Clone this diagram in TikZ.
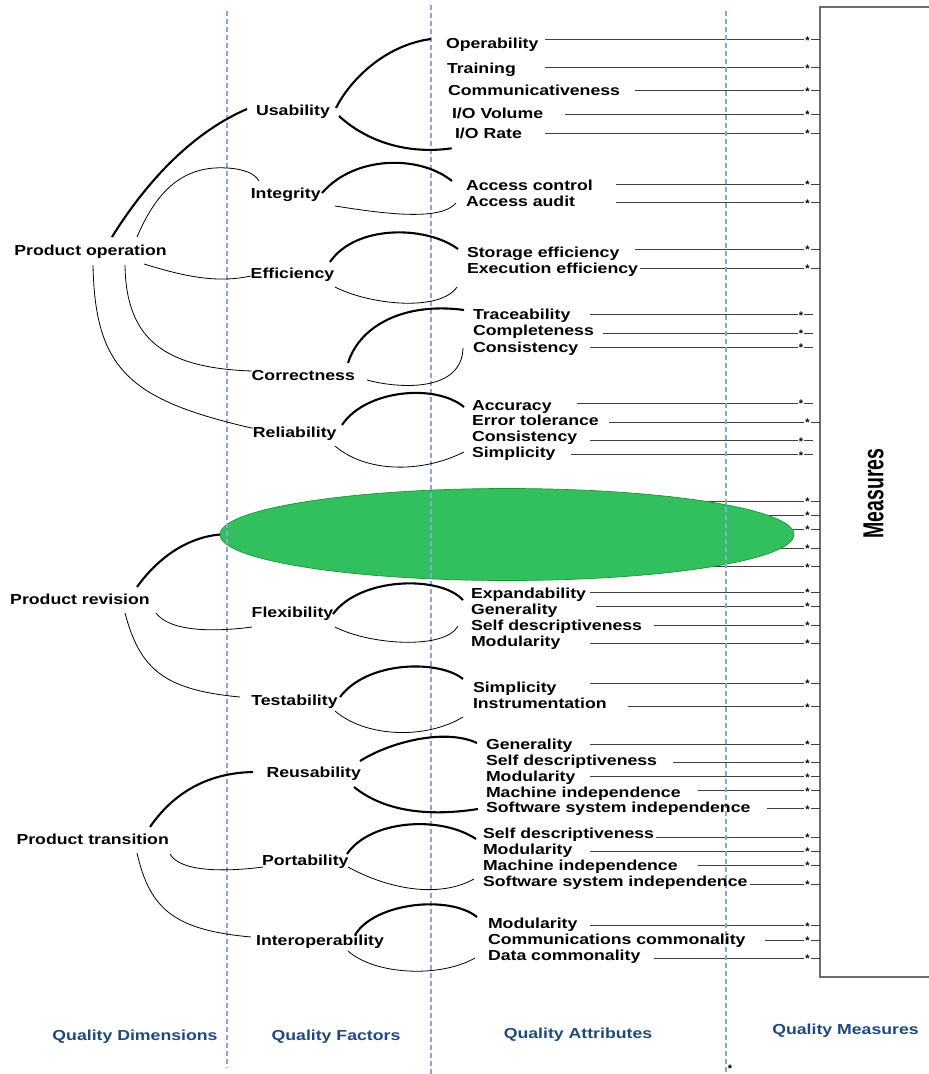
\documentclass[tikz,border=0pt]{standalone}
\usepackage{fontspec}
\newfontfamily\qfont{Liberation Sans}[FakeStretch=1.22]
\newfontfamily\mfont{Liberation Sans}
\usetikzlibrary{shapes.geometric}
\definecolor{guide}{RGB}{135,168,222}
\definecolor{dimblue}{RGB}{31,73,125}
\definecolor{boxgray}{RGB}{110,110,110}
\definecolor{blobfill}{RGB}{50,192,95}
\definecolor{blobedge}{RGB}{30,150,50}
\begin{document}
\begin{tikzpicture}[x=1pt,y=-1pt,
  lbl/.style={font=\qfont\bfseries\fontsize{14.5}{16}\selectfont, inner sep=0pt, outer sep=0pt, text height=10.4pt, text depth=0pt},
  dimension/.style={lbl},
  factor/.style={lbl},
  attr/.style={lbl, anchor=west},
  colhead/.style={lbl, text=dimblue},
  guideline/.style={guide, line width=1.2pt, dash pattern=on 5pt off 3pt},
  heavy/.style={line width=2.1pt},
  light/.style={line width=0.8pt},
  measline/.style={line width=1pt, black!75},
  starmark/.style={font=\mfont\bfseries\fontsize{11}{11}\selectfont, inner sep=1pt, anchor=base},
]
\useasboundingbox (0,0) rectangle (929,1074);

% measure box on the right
\node[draw=boxgray, line width=1.4pt, outer sep=0pt, inner sep=0pt,
      minimum width=200pt, minimum height=970pt, anchor=north west] (mbox) at (820,7) {};
\node[rotate=90, font=\mfont\bfseries\fontsize{19.5}{20}\selectfont, inner sep=0pt] (mtitle)
     at (873.7,493.3) {\scalebox{1}[1.48]{Measures}};

% attribute-to-measure lines: id / start x / line y / star x / tick end
\foreach \i/\sx/\ly/\stx/\tke in {
  1/545/39.5/807.5/820, 2/545/67.7/807.5/820, 3/635/90.7/807.5/820,
  4/565/114.3/807.5/820, 5/545/133/807.5/820, 6/616/184/807.5/820,
  7/616/202.7/807.5/820, 8/635/249.3/807.5/820, 9/640/268/807.5/820,
  10/590/314.7/801/813, 11/603/333.3/801/813, 12/590/347.3/801/813,
  13/577/403.3/801/813, 14/609/422.3/807.5/820, 15/590/440.7/801/813,
  16/571/454.7/801/813, 17/600/501.3/807.5/820, 18/600/515.3/807.5/820,
  19/600/529.3/807.5/820, 20/600/548/807.5/820, 21/600/566.7/807.5/820,
  22/590/592.3/807.5/820, 23/596/606/807.5/820, 24/654/625/807.5/820,
  25/590/643.3/807.5/820, 26/590/683.3/807.5/820, 27/628/706.7/807.5/820,
  28/590/744/807.5/820, 29/673/762.7/807.5/820, 30/590/776.7/807.5/820,
  31/698/790.7/807.5/820, 32/767/808.7/807.5/820, 33/656/837.3/807.5/820,
  34/590/851.3/807.5/820, 35/698/865.3/807.5/820, 36/750/884/807.5/820,
  37/590/925.7/807.5/820, 38/765/940/807.5/820, 39/654/958.3/807.5/820}{
  \coordinate (m\i) at (\sx,\ly);
  \node[starmark] (s\i) at (\stx,\ly+4.5) {*};
  \draw[measline] (m\i) -- (s\i.west |- m\i);
  \draw[measline] (s\i.east |- m\i) -- (\tke,\ly);
}

% green highlight over the maintainability rows
\node[ellipse, draw=blobedge, fill=blobfill, line width=0.7pt, minimum width=574pt,
      minimum height=92pt, inner sep=0pt, outer sep=0pt] (blob) at (507,534.5) {};

% column separators
\draw[guideline] (227,11) -- (227,1068);
\draw[guideline] (431,5) -- (431,1074);
\draw[guideline] (726,11) -- (726,1074);

% quality dimensions
\node[dimension] (dOp) at (90.5,250) {Product operation};
\node[dimension] (dRe) at (80,599.3) {Product revision};
\node[dimension] (dTr) at (92.7,839.3) {Product transition};

% quality factors
\node[factor] (fUs) at (293,110.7) {Usability};
\node[factor] (fIn) at (285.7,193.3) {Integrity};
\node[factor] (fEf) at (292.5,273.3) {Efficiency};
\node[factor] (fCo) at (303.3,375.3) {Correctness};
\node[factor] (fRe) at (294.7,432.3) {Reliability};
\node[factor] (fFl) at (292.5,612.7) {Flexibility};
\node[factor] (fTe) at (294.5,700) {Testability};
\node[factor] (fRu) at (313.7,772.3) {Reusability};
\node[factor] (fPo) at (305.3,860) {Portability};
\node[factor] (fIo) at (320,940) {Interoperability};

% quality attributes
\node[attr] (a1) at (446,43) {Operability};
\node[attr] (a2) at (447,68) {Training};
\node[attr] (a3) at (448,90) {Communicativeness};
\node[attr] (a4) at (452,113) {I/O Volume};
\node[attr] (a5) at (455,133) {I/O Rate};
\node[attr] (a6) at (466,185) {Access control};
\node[attr] (a7) at (466,201) {Access audit};
\node[attr] (a8) at (467,252) {Storage efficiency};
\node[attr] (a9) at (467,268) {Execution efficiency};
\node[attr] (a10) at (473,314) {Traceability};
\node[attr] (a11) at (473,330) {Completeness};
\node[attr] (a12) at (473,347) {Consistency};
\node[attr] (a13) at (472,405.7) {Accuracy};
\node[attr] (a14) at (472,420.3) {Error tolerance};
\node[attr] (a15) at (472,436.7) {Consistency};
\node[attr] (a16) at (472,452.7) {Simplicity};
\node[attr] (a22) at (471,593.3) {Expandability};
\node[attr] (a23) at (471,609.3) {Generality};
\node[attr] (a24) at (471,625.3) {Self descriptiveness};
\node[attr] (a25) at (471,641.3) {Modularity};
\node[attr] (a26) at (473,687.3) {Simplicity};
\node[attr] (a27) at (473,703.3) {Instrumentation};
\node[attr] (a28) at (486,744.3) {Generality};
\node[attr] (a29) at (486,760.3) {Self descriptiveness};
\node[attr] (a30) at (486,776.7) {Modularity};
\node[attr] (a31) at (486,792.3) {Machine independence};
\node[attr] (a32) at (486,807.7) {Software system independence};
\node[attr] (a33) at (483,833.3) {Self descriptiveness};
\node[attr] (a34) at (483,849.3) {Modularity};
\node[attr] (a35) at (483,865.3) {Machine independence};
\node[attr] (a36) at (483,881.7) {Software system independence};
\node[attr] (a37) at (488,923.3) {Modularity};
\node[attr] (a38) at (488,939.3) {Communications commonality};
\node[attr] (a39) at (488,955.7) {Data commonality};

% column headings
\node[colhead] (qd) at (135,1035.7) {Quality Dimensions};
\node[colhead] (qf) at (336,1035) {Quality Factors};
\node[colhead] (qa) at (578,1033) {Quality Attributes};
\node[colhead] (qm) at (845.5,1029.3) {Quality Measures};
\node[starmark] (bstar) at (730,1072) {*};

% product operation branches
\draw[heavy] ([shift={(21.5,-13)}]dOp.center) .. controls (150,176) and (196,131) .. ([shift={(-46,-1.7)}]fUs.center);
\draw[light] ([shift={(46.5,-13)}]dOp.center) .. controls (155,195) and (180,165) .. (227,168)
             .. controls (245,169) and (255,174) .. ([shift={(-26.7,-12.3)}]fIn.center);
\draw[light] ([shift={(53.5,14)}]dOp.center) .. controls (180,275) and (215,284) .. ([shift={(-41.8,2.7)}]fEf.center);
\draw[light] ([shift={(34.5,15)}]dOp.center) .. controls (126,340) and (165,368) .. ([shift={(-51.6,-4.3)}]fCo.center);
\draw[light] ([shift={(2.5,15)}]dOp.center) .. controls (95,370) and (130,400) .. ([shift={(-42,-4)}]fRe.center);

% usability
\draw[heavy] ([shift={(43,-2.7)}]fUs.center) .. controls (350,80) and (385,45) .. ([shift={(-15,-4)}]a1.west);
\draw[heavy] ([shift={(46,5.3)}]fUs.center) .. controls (365,140) and (405,155) .. ([shift={(-3.3,15.3)}]a5.west);
% integrity
\draw[heavy] ([shift={(36.3,-0.3)}]fIn.center) .. controls (355,155) and (420,155) .. ([shift={(-14,-4)}]a6.west);
\draw[light] ([shift={(49.3,12.7)}]fIn.center) .. controls (380,213) and (440,222) .. ([shift={(-10,2)}]a7.west);
% efficiency
\draw[heavy] ([shift={(37.5,-11.3)}]fEf.center) .. controls (355,225) and (425,225) .. ([shift={(-9,-3)}]a8.west);
\draw[light] ([shift={(42.5,13.7)}]fEf.center) .. controls (370,305) and (440,312) .. ([shift={(-10,19)}]a9.west);
% correctness
\draw[heavy] ([shift={(44.7,-12.3)}]fCo.center) .. controls (360,325) and (405,302) .. ([shift={(-9,-4)}]a10.west);
\draw[light] ([shift={(63.7,4.7)}]fCo.center) .. controls (400,389) and (462,392) .. ([shift={(-10,1)}]a12.west);
% reliability
\draw[heavy] ([shift={(47.3,-7.3)}]fRe.center) .. controls (365,390) and (435,383) .. ([shift={(-8,1.3)}]a13.west);
\draw[light] ([shift={(40.3,13.7)}]fRe.center) .. controls (365,472) and (420,474) .. ([shift={(-8,-0.7)}]a16.west);

% product revision branches
\draw[heavy] ([shift={(57,-12.3)}]dRe.center) .. controls (160,555) and (190,537) .. (blob.west);
\draw[light] ([shift={(76,13.7)}]dRe.center) .. controls (170,632) and (215,632) .. ([shift={(-40.5,14.3)}]fFl.center);
\draw[light] ([shift={(45,13.7)}]dRe.center) .. controls (140,670) and (165,690) .. ([shift={(-54.5,-3)}]fTe.center);
% flexibility
\draw[heavy] ([shift={(40.5,1.3)}]fFl.center) .. controls (360,577) and (440,575) .. ([shift={(-8,6.7)}]a22.west);
\draw[light] ([shift={(42.5,14.3)}]fFl.center) .. controls (370,645) and (445,650) .. ([shift={(-13,0.7)}]a24.west);
% testability
\draw[heavy] ([shift={(45.5,-3)}]fTe.center) .. controls (368,660) and (440,660) .. ([shift={(-10,-8.3)}]a26.west);
\draw[light] ([shift={(40.5,11)}]fTe.center) .. controls (365,737) and (425,740) .. ([shift={(-10,13.7)}]a27.west);

% product transition branches
\draw[heavy] ([shift={(57.3,-12.3)}]dTr.center) .. controls (172,795) and (205,773) .. ([shift={(-60.7,-0.3)}]fRu.center);
\draw[light] ([shift={(77.3,14.7)}]dTr.center) .. controls (180,872) and (225,872) .. ([shift={(-42.3,7)}]fPo.center);
\draw[light] ([shift={(44.3,13.7)}]dTr.center) .. controls (150,910) and (175,930) .. ([shift={(-69,-3)}]fIo.center);
% reusability
\draw[heavy] ([shift={(46.3,-11.3)}]fRu.center) .. controls (390,742) and (445,728) .. ([shift={(-9,-1.3)}]a28.west);
\draw[heavy] ([shift={(40.3,14.7)}]fRu.center) .. controls (380,808) and (420,818) .. ([shift={(-8,1.3)}]a32.west);
% portability
\draw[heavy] ([shift={(41.7,-6)}]fPo.center) .. controls (370,820) and (440,815) .. ([shift={(-7,5.7)}]a33.west);
\draw[light] ([shift={(42.7,7)}]fPo.center) .. controls (390,890) and (440,898) .. ([shift={(-9,-2.7)}]a36.west);
% interoperability
\draw[heavy] ([shift={(35,-5)}]fIo.center) .. controls (375,902) and (450,895) .. ([shift={(-11,-6.3)}]a37.west);
\draw[light] ([shift={(28,11)}]fIo.center) .. controls (375,975) and (440,978) .. ([shift={(-13,2.3)}]a39.west);
\end{tikzpicture}
\end{document}
